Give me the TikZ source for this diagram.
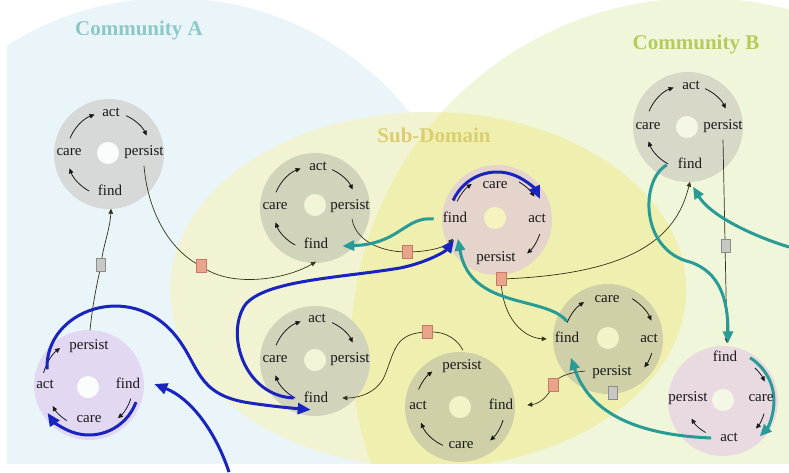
\documentclass[tikz,border=0pt]{standalone}
\usepackage{fontspec}
\setmainfont{Liberation Serif}
\usetikzlibrary{arrows.meta,calc}
\definecolor{bgA}{RGB}{234,245,249}
\definecolor{bgB}{RGB}{240,246,217}
\definecolor{bgS}{RGB}{241,243,210}
\definecolor{bgSB}{RGB}{239,239,176}
\definecolor{blueA}{RGB}{25,35,190}
\definecolor{tealA}{RGB}{40,155,150}
\definecolor{labc}{RGB}{25,25,25}
\definecolor{connc}{RGB}{50,50,25}
\definecolor{sqrf}{RGB}{232,165,140}
\definecolor{sqrd}{RGB}{200,120,100}
\definecolor{sqgf}{RGB}{200,200,195}
\definecolor{sqgd}{RGB}{140,140,140}
\definecolor{titA}{RGB}{140,200,200}
\definecolor{titB}{RGB}{180,205,90}
\definecolor{titS}{RGB}{220,205,110}
\definecolor{dA}{RGB}{214,217,216}
\definecolor{dS}{RGB}{210,211,187}
\definecolor{dB}{RGB}{215,216,200}
\definecolor{dSB}{RGB}{208,208,168}
\definecolor{pkA}{RGB}{228,212,204}
\definecolor{pkB}{RGB}{233,218,226}
\definecolor{lav}{RGB}{226,216,242}
\definecolor{hW}{RGB}{251,252,252}
\definecolor{hS}{RGB}{242,243,215}
\definecolor{hSB}{RGB}{243,243,200}
\definecolor{hB}{RGB}{245,247,230}
\definecolor{hY}{RGB}{245,243,190}
\pgfdeclarelayer{back}
\pgfdeclarelayer{discs}
\pgfdeclarelayer{lines}
\pgfsetlayers{back,discs,lines,main}
\newcommand\cyarc[4]{\draw[inarr] (#1) ++(#2:#4) arc[start angle=#2,end angle=#3,radius=#4];}
\begin{document}
\begin{tikzpicture}[x=1pt,y=-1pt,
  disc/.style={circle,minimum size=110pt,inner sep=0pt,draw=none},
  hole/.style={circle,minimum size=22pt,inner sep=0pt,draw=none},
  lab/.style={font=\fontsize{15}{15}\selectfont,text=labc,inner sep=1pt,text height=10pt,text depth=3pt},
  ttl/.style={font=\bfseries\fontsize{21}{21}\selectfont},
  inarr/.style={line width=0.8pt,draw=labc,-{Triangle[length=5pt,width=4.5pt]}},
  conn/.style={line width=0.7pt,draw=connc,-{Triangle[length=5pt,width=4.5pt]}},
  bluearr/.style={line width=3pt,draw=blueA,-{Triangle[length=13pt,width=11pt]}},
  tealarr/.style={line width=3pt,draw=tealA,-{Triangle[length=12pt,width=10pt]}},
  sqr/.style={draw=sqrd,fill=sqrf,line width=0.5pt,minimum width=10pt,minimum height=13pt,inner sep=0pt},
  sqg/.style={draw=sqgd,fill=sqgf,line width=0.5pt,minimum width=9pt,minimum height=13pt,inner sep=0pt}]
\useasboundingbox (0,0) rectangle (789,472);
\begin{pgfonlayer}{back}
\fill[white] (0,0) rectangle (789,472);
\begin{scope}
\clip (7,0) rectangle (789,463);
\fill[bgA] (171,304) circle[radius=306];
\fill[bgB] (700,347) circle[radius=349];
\fill[bgS] (428,290) ellipse[x radius=258,y radius=178];
\begin{scope}
\clip (428,290) ellipse[x radius=258,y radius=178];
\fill[bgSB] (700,347) circle[radius=349];
\end{scope}
\end{scope}
\end{pgfonlayer}

% titles
\node[ttl,text=titA] (ttlA) at (139,30) {Community A};
\node[ttl,text=titB] (ttlB) at (696,44) {Community B};
\node[ttl,text=titS] (ttlS) at (434,135) {Sub-Domain};

% discs
\begin{pgfonlayer}{discs}
\node[disc,fill=dA] (n1) at (109,154) {};
\node[hole,fill=hW] (h1) at (108,153) {};
\node[disc,fill=dS] (n2) at (315,208) {};
\node[hole,fill=hS] (h2) at (315,205) {};
\node[disc,fill=pkA] (n3) at (497,220) {};
\node[hole,fill=hY] (h3) at (495,218) {};
\node[disc,fill=dB] (n4) at (688,127) {};
\node[hole,fill=hB] (h4) at (687,127) {};
\node[disc,fill=lav] (n5) at (89,385) {};
\node[hole,fill=hW] (h5) at (88,387) {};
\node[disc,fill=dS] (n6) at (315,361) {};
\node[hole,fill=hS] (h6) at (315,360) {};
\node[disc,fill=dSB] (n7) at (460,407) {};
\node[hole,fill=hSB] (h7) at (460,407) {};
\node[disc,fill=dSB] (n8) at (608,339) {};
\node[hole,fill=hSB] (h8) at (608,338) {};
\node[disc,fill=pkB] (n9) at (723,401) {};
\node[hole,fill=hB] (h9) at (723,400) {};
\end{pgfonlayer}

% labels
\node[lab] (n1act) at (111,113) {act};
\node[lab] (n1per) at (144,152) {persist};
\node[lab] (n1find) at (110,192) {find};
\node[lab] (n1care) at (69,152) {care};
\node[lab] (n2act) at (318,167) {act};
\node[lab] (n2per) at (350,206) {persist};
\node[lab] (n2find) at (316,245) {find};
\node[lab] (n2care) at (275,206) {care};
\node[lab] (n3care) at (495,185) {care};
\node[lab] (n3find) at (455,219) {find};
\node[lab] (n3act) at (537,219) {act};
\node[lab] (n3per) at (496,258) {persist};
\node[lab] (n4act) at (691,86) {act};
\node[lab] (n4per) at (723,126) {persist};
\node[lab] (n4care) at (648,126) {care};
\node[lab] (n4find) at (690,165) {find};
\node[lab] (n5per) at (89,346) {persist};
\node[lab] (n5find) at (128,385) {find};
\node[lab] (n5act) at (45,385) {act};
\node[lab] (n5care) at (89,419) {care};
\node[lab] (n6act) at (317,319) {act};
\node[lab] (n6per) at (350,359) {persist};
\node[lab] (n6care) at (275,359) {care};
\node[lab] (n6find) at (316,399) {find};
\node[lab] (n7per) at (462,366) {persist};
\node[lab] (n7act) at (418,406) {act};
\node[lab] (n7find) at (501,406) {find};
\node[lab] (n7care) at (461,445) {care};
\node[lab] (n8care) at (607,299) {care};
\node[lab] (n8find) at (567,339) {find};
\node[lab] (n8act) at (649,339) {act};
\node[lab] (n8per) at (612,372) {persist};
\node[lab] (n9find) at (725,358) {find};
\node[lab] (n9per) at (688,398) {persist};
\node[lab] (n9care) at (761,398) {care};
\node[lab] (n9act) at (729,438) {act};

% markers
\node[sqr] (sq1) at (201,266) {};
\node[sqr] (sq2) at (407,252) {};
\node[sqr] (sq3) at (501,279) {};
\node[sqr] (sq4) at (427,332) {};
\node[sqr] (sq5) at (553,385) {};
\node[sqg] (sqg1) at (101,265) {};
\node[sqg] (sqg2) at (726,246) {};
\node[sqg] (sqg3) at (613,393) {};

\coordinate (rin) at (789,247);
\coordinate (bin) at (229,472);

\begin{pgfonlayer}{lines}
% inner cycle arrows
\cyarc{n1}{202}{250}{42}\cyarc{n1}{294}{334}{42}\cyarc{n1}{118}{160}{42}
\cyarc{n2}{202}{250}{42}\cyarc{n2}{294}{334}{42}\cyarc{n2}{118}{160}{42}
\cyarc{n4}{202}{250}{42}\cyarc{n4}{294}{334}{42}\cyarc{n4}{118}{160}{42}
\cyarc{n6}{202}{250}{42}\cyarc{n6}{294}{334}{42}\cyarc{n6}{118}{160}{42}
\cyarc{n3}{205}{235}{44}\cyarc{n3}{300}{328}{44}\cyarc{n3}{18}{48}{45}
\cyarc{n5}{195}{232}{47}\cyarc{n5}{18}{49}{44}\cyarc{n5}{122}{150}{42}
\cyarc{n7}{203}{232}{45}\cyarc{n7}{17}{48}{45}\cyarc{n7}{114}{158}{42}
\cyarc{n8}{202}{237}{44}\cyarc{n8}{301}{337}{47}\cyarc{n8}{18}{38}{46}
\cyarc{n9}{314}{335}{46}\cyarc{n9}{17}{40}{43}\cyarc{n9}{119}{151}{36}

% thin connectors
\draw[conn] ($(n1per.south)+(0,6)$) .. controls (148,215) and (172,252) .. (sq1.center) .. controls (230,288) and (285,280) .. ($(n2find.south)+(0,9)$);
\draw[conn] ($(n2per.south)+(2,5)$) .. controls (355,240) and (380,252) .. (sq2.center) .. controls (425,252) and (445,248) .. ($(n3find.south)+(-2,12)$);
\draw[conn] (sq3.center) .. controls (645,274) and (678,230) .. ($(n4find.south)+(0,9)$);
\draw[conn] (sq3.center) .. controls (502,320) and (525,338) .. ($(n8find.west)+(-7,0)$);
\draw[conn] ($(n4per.south)+(0,6)$) -- ($(n9find.north)+(2,-7)$);
\draw[conn] ($(n7per.north)+(1,-8)$) .. controls (455,335) and (440,331) .. (sq4.center) .. controls (395,333) and (395,350) .. (385,375) .. controls (378,392) and (360,398) .. ($(n6find.east)+(13,-1)$);
\draw[conn] ($(n8per.west)+(-6,-1)$) .. controls (565,373) and (556,378) .. (sq5.center) .. controls (548,398) and (538,404) .. ($(n7find.east)+(13,-1)$);
\draw[conn] ($(n5per.north)+(1,-8)$) .. controls (93,300) and (98,280) .. (sqg1.center) .. controls (103,245) and (110,230) .. ($(n1find.south)+(1,9)$);

% teal connectors
\draw[tealarr] ($(n3find.west)+(-8,0)$) .. controls (405,216) and (400,244) .. ($(n2find.east)+(13,1)$);
\draw[tealarr] ($(n8find.north)+(0,-10)$) .. controls (545,295) and (470,310) .. ($(n3find.south)+(3,12)$);
\draw[tealarr] ($(n9act.west)+(-8,0)$) .. controls (640,435) and (590,415) .. ($(n8find.south)+(4,11)$);
\draw[tealarr] ($(n4find.west)+(-10,0)$) .. controls (640,180) and (640,250) .. (690,262) .. controls (720,272) and (728,300) .. ($(n9find.north)+(3,-7)$);
\draw[tealarr] (rin) .. controls (750,235) and (710,215) .. ($(n4find.south)+(3,14)$);
\draw[tealarr] (n9) ++(302:51) arc[start angle=302,end angle=404,radius=51];

% blue connectors
\draw[bluearr] ($(n6find.west)+(-9,-1)$) .. controls (245,396) and (225,335) .. (245,305) .. controls (265,280) and (340,278) .. (400,268) .. controls (425,263) and (445,252) .. ($(n3find.south)+(-1,13)$);
\draw[bluearr] ($(n5act.north)+(2,-8)$) .. controls (45,310) and (130,280) .. (175,335) .. controls (200,365) and (195,395) .. (250,403) .. controls (270,406) and (290,408) .. ($(n6find.south west)+(8,3)$);
\draw[bluearr] (n5) ++(20:50) arc[start angle=20,end angle=146,radius=50];
\draw[bluearr] (bin) .. controls (215,430) and (190,398) .. ($(n5find.east)+(13,-1)$);
\draw[bluearr] (n3) ++(204:48) arc[start angle=204,end angle=334,radius=48];
\end{pgfonlayer}
\end{tikzpicture}
\end{document}
